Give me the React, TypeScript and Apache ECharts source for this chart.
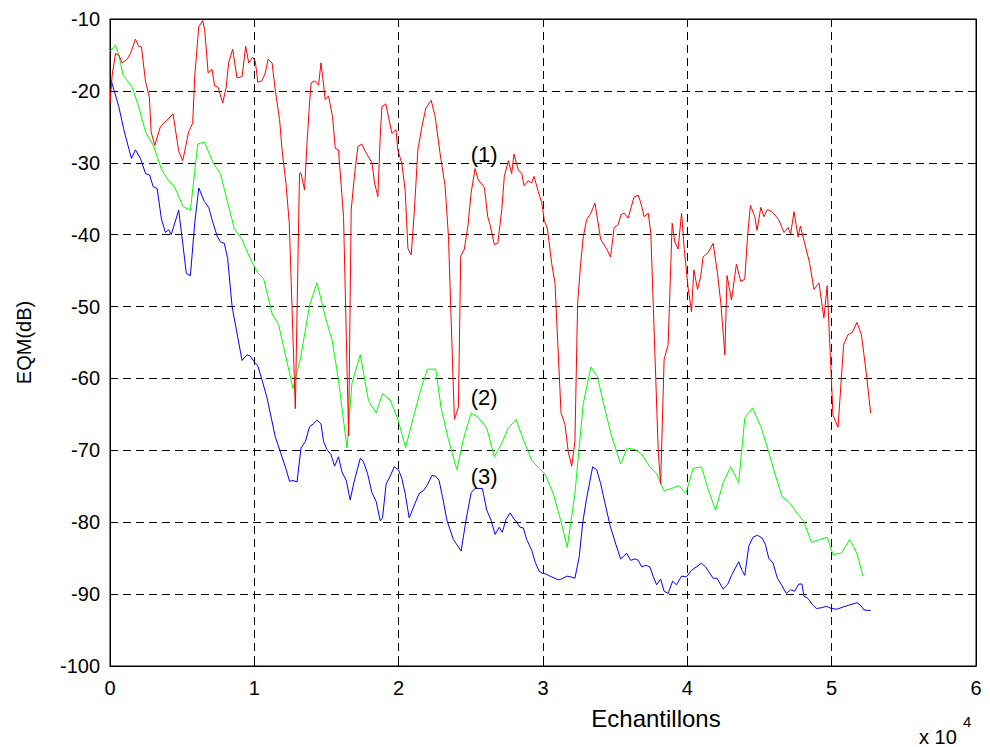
import React, { useEffect, useRef } from "react";
import * as echarts from "echarts";

// x in units of 10^4 samples, y in dB
const xTickValues = [0, 1, 2, 3, 4, 5, 6];
const yTickValues = [-100, -90, -80, -70, -60, -50, -40, -30, -20, -10];

const curve1: [number, number][] = [
  [0.0, -21.9], [0.015, -17.8], [0.038, -14.8], [0.061, -15.0], [0.084, -16.1], [0.119, -15.6],
  [0.142, -14.8], [0.176, -12.8], [0.199, -13.8], [0.218, -13.9], [0.246, -18.7], [0.273, -20.9],
  [0.285, -25.7], [0.31, -27.6], [0.349, -25.0], [0.437, -23.2], [0.476, -28.4], [0.504, -29.7],
  [0.545, -25.7], [0.573, -24.5], [0.587, -18.0], [0.615, -11.1], [0.642, -10.2], [0.656, -11.5],
  [0.68, -17.5], [0.707, -17.0], [0.725, -19.3], [0.749, -19.5], [0.781, -21.7], [0.804, -19.6],
  [0.822, -16.1], [0.85, -14.2], [0.88, -18.2], [0.915, -18.0], [0.94, -13.8], [0.961, -16.1],
  [0.988, -15.3], [1.007, -15.9], [1.024, -18.8], [1.053, -18.6], [1.076, -17.5], [1.095, -15.6],
  [1.123, -16.1], [1.145, -19.9], [1.175, -24.0], [1.192, -28.2], [1.219, -32.8], [1.242, -38.4],
  [1.284, -64.2], [1.313, -31.5], [1.323, -31.4], [1.348, -33.8], [1.365, -27.3], [1.383, -21.5],
  [1.394, -18.9], [1.417, -18.6], [1.445, -19.2], [1.462, -16.1], [1.473, -18.0], [1.491, -21.2],
  [1.514, -20.7], [1.542, -23.6], [1.561, -28.0], [1.583, -28.2], [1.618, -37.5], [1.653, -68.0],
  [1.671, -36.6], [1.694, -31.7], [1.718, -27.7], [1.745, -27.4], [1.768, -28.4], [1.815, -30.0],
  [1.833, -32.8], [1.856, -34.7], [1.872, -26.4], [1.884, -22.2], [1.911, -21.8], [1.953, -25.9],
  [1.981, -25.4], [1.994, -28.2], [2.022, -30.1], [2.045, -33.8], [2.064, -41.9], [2.087, -42.8],
  [2.109, -36.6], [2.133, -28.2], [2.161, -25.0], [2.188, -22.4], [2.225, -21.3], [2.253, -23.6],
  [2.287, -28.7], [2.322, -33.3], [2.345, -40.3], [2.386, -65.7], [2.414, -64.0], [2.43, -43.0],
  [2.455, -42.0], [2.479, -38.9], [2.502, -34.2], [2.529, -30.8], [2.552, -32.4], [2.594, -33.4],
  [2.617, -37.5], [2.633, -38.6], [2.663, -41.4], [2.687, -41.2], [2.714, -36.6], [2.732, -31.9],
  [2.76, -29.7], [2.783, -31.5], [2.799, -28.8], [2.829, -31.0], [2.853, -31.5], [2.869, -33.2],
  [2.898, -32.5], [2.922, -32.8], [2.938, -31.9], [2.967, -34.0], [2.991, -35.5], [3.009, -38.0],
  [3.031, -39.2], [3.06, -44.0], [3.083, -46.7], [3.125, -64.8], [3.152, -66.4], [3.175, -70.2],
  [3.199, -72.2], [3.221, -68.8], [3.24, -49.5], [3.261, -44.0], [3.279, -40.3], [3.302, -37.9],
  [3.332, -37.0], [3.36, -35.6], [3.399, -40.6], [3.441, -42.0], [3.468, -43.1], [3.493, -39.0],
  [3.521, -38.6], [3.54, -37.2], [3.563, -37.0], [3.59, -37.7], [3.63, -34.8], [3.66, -34.5],
  [3.678, -35.6], [3.701, -37.5], [3.729, -37.0], [3.747, -39.8], [3.798, -69.9], [3.815, -74.7],
  [3.839, -57.4], [3.867, -55.3], [3.895, -38.4], [3.913, -41.0], [3.936, -42.0], [3.96, -37.0],
  [3.979, -42.1], [4.006, -47.5], [4.029, -50.7], [4.045, -44.9], [4.071, -47.6], [4.093, -45.8],
  [4.109, -43.1], [4.144, -42.5], [4.179, -41.2], [4.209, -45.4], [4.232, -49.5], [4.26, -56.7],
  [4.275, -45.7], [4.306, -49.1], [4.34, -44.1], [4.37, -46.5], [4.398, -46.2], [4.417, -40.3],
  [4.437, -35.9], [4.467, -37.5], [4.483, -39.4], [4.509, -36.2], [4.531, -37.5], [4.555, -36.5],
  [4.587, -36.8], [4.633, -37.9], [4.67, -39.7], [4.698, -39.0], [4.716, -39.9], [4.739, -36.8],
  [4.767, -40.3], [4.783, -38.8], [4.813, -41.2], [4.848, -44.0], [4.877, -47.6], [4.912, -46.7],
  [4.946, -51.6], [4.969, -47.1], [5.009, -65.1], [5.044, -66.8], [5.083, -55.3], [5.113, -53.9],
  [5.143, -53.6], [5.175, -52.2], [5.206, -53.9], [5.24, -59.3], [5.27, -64.8],
];

const curve2: [number, number][] = [
  [0.0, -14.5], [0.038, -13.6], [0.061, -15.0], [0.091, -17.8], [0.154, -19.5], [0.199, -22.2],
  [0.246, -25.7], [0.303, -27.7], [0.356, -30.9], [0.407, -32.5], [0.446, -33.3], [0.507, -36.1],
  [0.557, -36.6], [0.608, -27.4], [0.654, -27.1], [0.714, -30.0], [0.765, -31.5], [0.811, -35.2],
  [0.862, -39.2], [0.91, -40.5], [0.956, -42.6], [0.991, -44.1], [1.023, -45.3], [1.064, -46.1],
  [1.123, -51.0], [1.168, -52.5], [1.268, -61.4], [1.318, -57.4], [1.383, -49.8], [1.434, -46.7],
  [1.491, -51.4], [1.538, -54.6], [1.583, -60.2], [1.642, -69.7], [1.676, -60.7], [1.734, -56.7],
  [1.791, -63.1], [1.844, -64.8], [1.888, -62.1], [1.941, -63.0], [1.992, -65.5], [2.048, -69.6],
  [2.102, -65.4], [2.149, -61.8], [2.199, -58.7], [2.257, -58.7], [2.294, -64.1], [2.345, -68.5],
  [2.403, -72.7], [2.448, -68.5], [2.502, -64.8], [2.552, -65.4], [2.61, -66.9], [2.663, -70.9],
  [2.714, -69.0], [2.76, -66.9], [2.813, -65.7], [2.864, -68.5], [2.922, -71.4], [2.972, -72.5],
  [3.014, -73.3], [3.071, -76.0], [3.122, -79.7], [3.168, -83.5], [3.221, -76.0], [3.279, -63.5],
  [3.332, -58.4], [3.376, -59.7], [3.422, -63.7], [3.475, -68.0], [3.538, -71.9], [3.583, -69.7],
  [3.637, -69.9], [3.683, -70.5], [3.74, -72.3], [3.787, -73.2], [3.837, -75.6], [3.891, -75.3],
  [3.943, -74.9], [3.99, -76.0], [4.04, -72.5], [4.098, -72.3], [4.144, -75.4], [4.195, -78.3],
  [4.248, -74.5], [4.301, -72.3], [4.356, -74.5], [4.398, -65.5], [4.451, -64.1], [4.509, -66.7],
  [4.559, -69.9], [4.606, -73.2], [4.656, -76.4], [4.709, -77.3], [4.763, -78.8], [4.808, -79.9],
  [4.86, -82.8], [4.917, -82.4], [4.97, -82.1], [5.009, -84.5], [5.067, -84.3], [5.125, -82.4],
  [5.175, -84.3], [5.217, -87.5],
];

const curve3: [number, number][] = [
  [0.008, -18.5], [0.022, -19.5], [0.061, -22.2], [0.096, -25.4], [0.126, -27.7], [0.149, -29.4],
  [0.176, -28.2], [0.211, -29.4], [0.246, -31.5], [0.275, -31.7], [0.299, -33.3], [0.327, -33.6],
  [0.356, -37.8], [0.384, -39.7], [0.407, -39.3], [0.424, -40.0], [0.476, -36.6], [0.504, -41.2],
  [0.529, -45.4], [0.557, -45.7], [0.587, -38.4], [0.615, -33.5], [0.654, -35.4], [0.684, -36.2],
  [0.707, -37.9], [0.742, -40.2], [0.765, -41.0], [0.792, -41.2], [0.815, -43.3], [0.846, -50.0],
  [0.88, -53.7], [0.915, -57.5], [0.949, -56.7], [0.972, -56.9], [1.0, -57.7], [1.023, -58.2],
  [1.053, -60.2], [1.088, -62.7], [1.145, -68.1], [1.18, -70.2], [1.221, -72.7], [1.244, -74.3],
  [1.268, -74.2], [1.296, -74.4], [1.323, -69.7], [1.353, -68.8], [1.383, -66.7], [1.41, -66.3],
  [1.434, -65.8], [1.462, -66.3], [1.48, -68.8], [1.503, -69.9], [1.531, -70.6], [1.556, -72.2],
  [1.583, -70.9], [1.607, -73.0], [1.637, -74.2], [1.664, -76.9], [1.692, -74.3], [1.734, -71.1],
  [1.756, -71.6], [1.784, -73.2], [1.815, -75.9], [1.844, -77.1], [1.872, -79.8], [1.888, -79.4],
  [1.913, -74.7], [1.941, -73.6], [1.969, -72.3], [1.999, -72.7], [2.022, -73.9], [2.045, -76.0],
  [2.073, -79.4], [2.109, -77.6], [2.142, -76.0], [2.172, -75.6], [2.199, -74.8], [2.23, -73.5],
  [2.257, -73.6], [2.28, -74.2], [2.303, -76.4], [2.334, -79.7], [2.379, -82.4], [2.433, -84.0],
  [2.465, -79.9], [2.502, -75.9], [2.529, -75.3], [2.58, -75.3], [2.61, -78.3], [2.64, -79.7],
  [2.668, -81.7], [2.696, -80.7], [2.718, -81.4], [2.744, -79.6], [2.772, -78.7], [2.794, -79.4],
  [2.818, -80.0], [2.841, -80.7], [2.864, -80.8], [2.887, -82.4], [2.922, -83.9], [2.945, -85.5],
  [2.972, -86.8], [2.995, -87.1], [3.019, -87.2], [3.048, -87.5], [3.106, -88.0], [3.129, -87.9],
  [3.168, -87.5], [3.192, -87.6], [3.221, -87.8], [3.251, -84.8], [3.275, -80.1], [3.302, -76.7],
  [3.344, -72.3], [3.372, -72.7], [3.399, -74.6], [3.429, -77.3], [3.464, -80.4], [3.505, -83.1],
  [3.538, -85.1], [3.556, -84.8], [3.579, -84.3], [3.607, -85.3], [3.637, -85.1], [3.66, -85.3],
  [3.683, -86.2], [3.713, -86.0], [3.74, -86.2], [3.763, -87.5], [3.787, -88.7], [3.815, -87.9],
  [3.839, -89.6], [3.867, -89.9], [3.898, -88.2], [3.925, -88.7], [3.96, -87.5], [3.994, -87.6],
  [4.029, -86.7], [4.098, -85.7], [4.126, -86.2], [4.179, -87.8], [4.206, -87.8], [4.248, -89.3],
  [4.278, -88.7], [4.306, -87.4], [4.356, -85.5], [4.379, -86.7], [4.398, -87.4], [4.426, -83.3],
  [4.455, -82.1], [4.486, -81.8], [4.518, -82.2], [4.541, -83.1], [4.564, -85.0], [4.594, -85.7],
  [4.624, -87.8], [4.652, -88.7], [4.686, -89.9], [4.716, -89.4], [4.744, -89.6], [4.772, -88.6],
  [4.794, -88.6], [4.808, -90.3], [4.836, -90.6], [4.864, -91.4], [4.894, -92.0], [4.929, -91.9],
  [4.963, -91.7], [4.998, -92.0], [5.037, -92.1], [5.078, -91.8], [5.125, -91.5], [5.175, -91.2],
  [5.198, -91.5], [5.224, -92.2], [5.27, -92.3],
];

const curveColors = ["#ff0000", "#00ff00", "#0000ff"];
const curveLabels = ["(1)", "(2)", "(3)"];
const labelAnchors: [number, number][] = [
  [2.592, -28.9],
  [2.592, -62.6],
  [2.592, -73.6],
];
const xAxisTitle = "Echantillons";
const yAxisTitle = "EQM(dB)";

const FONT = "'Liberation Sans', Arial, Helvetica, sans-serif";

export default function App() {
  const ref = useRef<HTMLDivElement>(null);

  useEffect(() => {
    document.body.style.margin = "0";
    const el = ref.current;
    if (!el) return;
    const chart = echarts.init(el, null, { renderer: "svg" });

    const gridBox = { left: 110, top: 19, width: 866, height: 647 };
    const tickStyle = { color: "#000", width: 1 };
    const gridLine = { show: true, lineStyle: { color: "#000", width: 1, type: [8, 5] as any } };
    const labelStyle = { color: "#000", fontSize: 20, fontFamily: FONT };

    chart.setOption({
      animation: false,
      backgroundColor: "#ffffff",
      grid: { ...gridBox, show: true, borderColor: "#000", borderWidth: 1, backgroundColor: "#fff" },
      xAxis: [
        {
          type: "value",
          min: xTickValues[0],
          max: xTickValues[xTickValues.length - 1],
          interval: 1,
          position: "bottom",
          axisLine: { show: true, onZero: false, lineStyle: tickStyle },
          axisTick: { show: true, inside: true, length: 7, lineStyle: tickStyle },
          axisLabel: { ...labelStyle, margin: 12, showMinLabel: true, showMaxLabel: true },
          splitLine: gridLine,
        },
        {
          type: "value",
          min: xTickValues[0],
          max: xTickValues[xTickValues.length - 1],
          interval: 1,
          position: "top",
          axisLine: { show: true, onZero: false, lineStyle: tickStyle },
          axisTick: { show: true, inside: true, length: 7, lineStyle: tickStyle },
          axisLabel: { show: false },
          splitLine: { show: false },
        },
      ],
      yAxis: [
        {
          type: "value",
          min: yTickValues[0],
          max: yTickValues[yTickValues.length - 1],
          interval: 10,
          position: "left",
          axisLine: { show: true, onZero: false, lineStyle: tickStyle },
          axisTick: { show: true, inside: true, length: 7, lineStyle: tickStyle },
          axisLabel: { ...labelStyle, margin: 10, showMinLabel: true, showMaxLabel: true },
          splitLine: gridLine,
          name: yAxisTitle,
          nameLocation: "middle",
          nameGap: 76,
          nameTextStyle: { color: "#000", fontSize: 20, fontFamily: FONT },
        },
        {
          type: "value",
          min: yTickValues[0],
          max: yTickValues[yTickValues.length - 1],
          interval: 10,
          position: "right",
          axisLine: { show: true, onZero: false, lineStyle: tickStyle },
          axisTick: { show: true, inside: true, length: 7, lineStyle: tickStyle },
          axisLabel: { show: false },
          splitLine: { show: false },
        },
      ],
      series: [curve1, curve2, curve3].map((d, i) => ({
        type: "line",
        name: curveLabels[i],
        data: d,
        xAxisIndex: 0,
        yAxisIndex: 0,
        showSymbol: false,
        symbol: "none",
        lineStyle: { color: curveColors[i], width: 1 },
        itemStyle: { color: curveColors[i] },
        z: 5 - i,
      })),
    });

    const labels = labelAnchors.map((p, i) => {
      const px = chart.convertToPixel({ gridIndex: 0 } as any, p) as number[];
      return {
        type: "text",
        x: px[0],
        y: px[1],
        style: {
          text: curveLabels[i],
          fill: "#000",
          fontSize: 22,
          fontFamily: FONT,
          textAlign: "center",
          textVerticalAlign: "middle",
        },
        z: 10,
      };
    });

    chart.setOption({
      graphic: [
        ...labels,
        {
          type: "text",
          x: 656,
          y: 718,
          style: { text: xAxisTitle, fill: "#000", fontSize: 24, fontFamily: FONT, textAlign: "center", textVerticalAlign: "middle" },
        },
        {
          type: "text",
          x: 919,
          y: 737,
          style: { text: "x 10", fill: "#000", fontSize: 20, fontFamily: FONT, textAlign: "left", textVerticalAlign: "middle" },
        },
        {
          type: "text",
          x: 963,
          y: 721,
          style: { text: "4", fill: "#000", fontSize: 15, fontFamily: FONT, textAlign: "left", textVerticalAlign: "middle" },
        },
      ],
    });

    return () => chart.dispose();
  }, []);

  return <div ref={ref} style={{ position: "fixed", left: 0, top: 0, width: 990, height: 747 }} />;
}
